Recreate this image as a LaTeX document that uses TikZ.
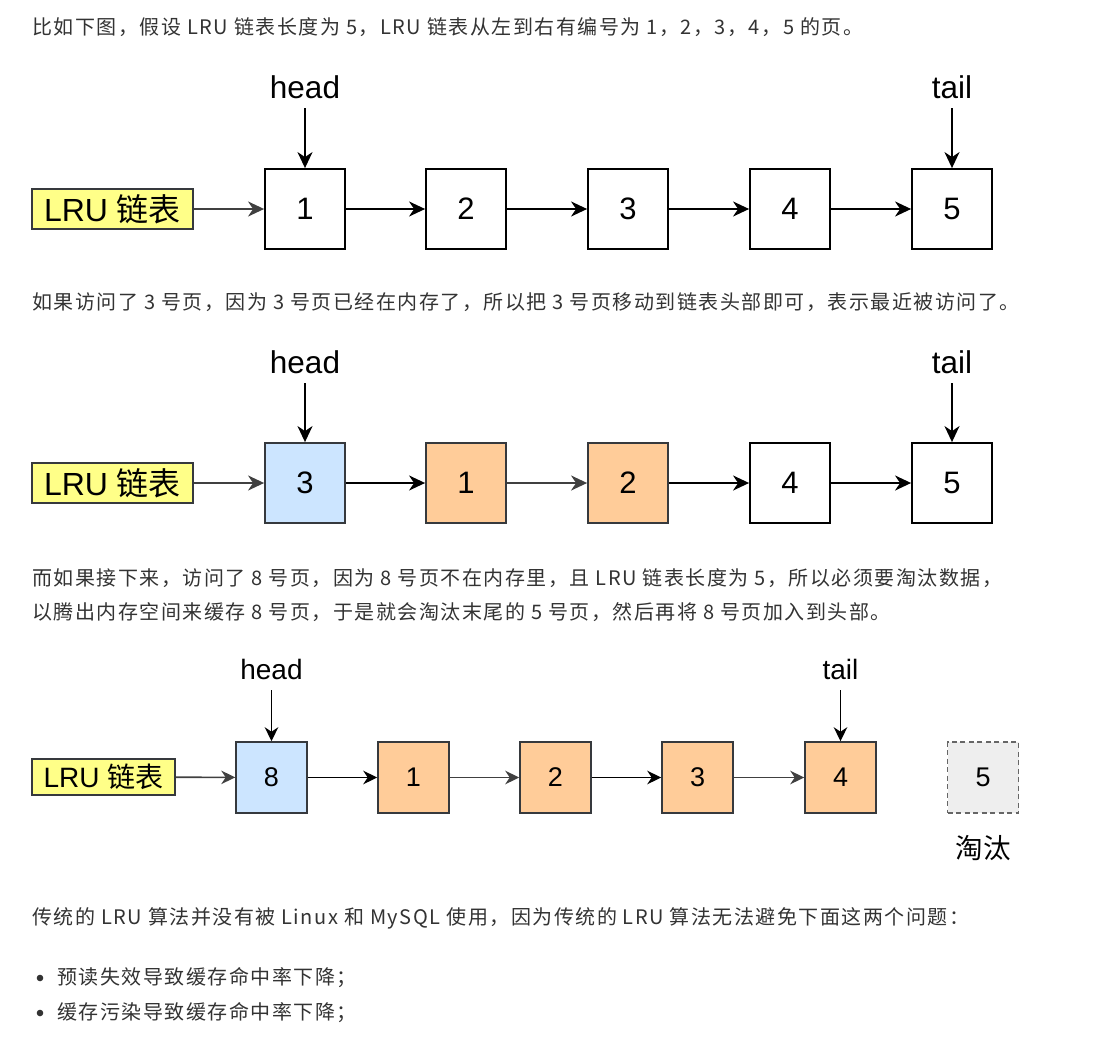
\documentclass[tikz,border=0pt]{standalone}
\usepackage{fontspec}
\setmainfont{Liberation Sans}
\newfontfamily\cjk{Noto Sans CJK SC}
\newfontfamily\cjkp[LetterSpace=7.5]{Noto Sans CJK SC}
\usetikzlibrary{arrows.meta}
\definecolor{txt}{HTML}{333333}
\definecolor{bdr}{HTML}{36393D}
\definecolor{ablue}{HTML}{CCE5FF}
\definecolor{aorange}{HTML}{FFCC99}
\definecolor{ayellow}{HTML}{FFFF88}
\definecolor{agray}{HTML}{EEEEEE}
\definecolor{dgray}{HTML}{666666}
\definecolor{arr}{HTML}{404040}
\tikzset{
  para/.style={anchor=west, inner sep=0pt, text=txt, font=\cjkp\fontsize{20}{22}\selectfont},
  pg/.style={draw=black, line width=1.8pt, minimum width=80pt, minimum height=80pt, inner sep=0pt, font=\fontsize{31}{32}\selectfont},
  pgs/.style={draw=bdr, line width=1.5pt, minimum width=71pt, minimum height=71pt, inner sep=0pt, font=\fontsize{27}{28}\selectfont},
  lru/.style={draw=bdr, fill=ayellow, line width=1.6pt, minimum width=161pt, minimum height=40pt, inner sep=0pt, font=\fontsize{32}{33}\selectfont},
  lrus/.style={draw=bdr, fill=ayellow, line width=1.5pt, minimum width=143pt, minimum height=36pt, inner sep=0pt, font=\fontsize{28}{29}\selectfont},
  lbl/.style={inner sep=0pt, font=\fontsize{31.5}{32}\selectfont},
  lbls/.style={inner sep=0pt, font=\fontsize{28}{29}\selectfont},
  ar/.style={-{Stealth[length=16pt,width=15pt,inset=5pt]}, line width=1.9pt, draw=black},
  arg/.style={-{Stealth[length=16pt,width=15pt,inset=5pt]}, line width=1.9pt, draw=arr},
  ars/.style={-{Stealth[length=14pt,width=13.5pt,inset=4.5pt]}, line width=1.6pt, draw=black},
  args/.style={-{Stealth[length=14pt,width=13.5pt,inset=4.5pt]}, line width=1.6pt, draw=arr},
  gone/.style={fill=agray, draw=dgray, line width=1.6pt, dash pattern=on 5pt off 3.5pt},
}
\begin{document}
\begin{tikzpicture}[x=1pt,y=-1pt]
\useasboundingbox (0,0) rectangle (1095,1041);
\fill[white] (0,0) rectangle (1095,1041);
% text
\node[para] (t1) at (32,27) {比如下图，假设 LRU 链表长度为 5，LRU 链表从左到右有编号为 1，2，3，4，5 的页。};
\node[para] (t2) at (32,302) {如果访问了 3 号页，因为 3 号页已经在内存了，所以把 3 号页移动到链表头部即可，表示最近被访问了。};
\node[para] (t3) at (32,578) {而如果接下来，访问了 8 号页，因为 8 号页不在内存里，且 LRU 链表长度为 5，所以必须要淘汰数据，};
\node[para] (t4) at (32,612) {以腾出内存空间来缓存 8 号页，于是就会淘汰末尾的 5 号页，然后再将 8 号页加入到头部。};
\node[para] (t5) at (32,918) {传统的 LRU 算法并没有被 Linux 和 MySQL 使用，因为传统的 LRU 算法无法避免下面这两个问题：};
\fill[txt] (40,978) circle (3.3pt);
\fill[txt] (40,1013) circle (3.3pt);
\node[para] (b1) at (57,978) {预读失效导致缓存命中率下降；};
\node[para] (b2) at (57,1013) {缓存污染导致缓存命中率下降；};

% diagram 1
\node[lru] (L1) at (112.5,209) {LRU \cjk 链表};
\node[pg] (a1) at (305,209) {1};
\node[pg] (a2) at (466,209) {2};
\node[pg] (a3) at (628,209) {3};
\node[pg] (a4) at (790,209) {4};
\node[pg] (a5) at (952,209) {5};
\node[lbl] (h1) at (305,87) {head};
\node[lbl] (tl1) at (952,87) {tail};
\coordinate (h1s) at (305,108);
\coordinate (tl1s) at (952,108);
\draw[arg] (L1) -- (a1);
\draw[ar] (a1) -- (a2);
\draw[ar] (a2) -- (a3);
\draw[ar] (a3) -- (a4);
\draw[ar] (a4) -- (a5);
\draw[ar] (h1s) -- (a1.north);
\draw[ar] (tl1s) -- (a5.north);

% diagram 2
\node[lru] (L2) at (112.5,483) {LRU \cjk 链表};
\node[pg, draw=bdr, fill=ablue] (c1) at (305,483) {3};
\node[pg, draw=bdr, fill=aorange] (c2) at (466,483) {1};
\node[pg, draw=bdr, fill=aorange] (c3) at (628,483) {2};
\node[pg] (c4) at (790,483) {4};
\node[pg] (c5) at (952,483) {5};
\node[lbl] (h2) at (305,362) {head};
\node[lbl] (tl2) at (952,362) {tail};
\coordinate (h2s) at (305,383);
\coordinate (tl2s) at (952,383);
\draw[arg] (L2) -- (c1);
\draw[ar] (c1) -- (c2);
\draw[arg] (c2) -- (c3);
\draw[ar] (c3) -- (c4);
\draw[ar] (c4) -- (c5);
\draw[ar] (h2s) -- (c1.north);
\draw[ar] (tl2s) -- (c5.north);

% diagram 3
\node[lrus] (L3) at (103.5,777) {LRU \cjk 链表};
\node[pgs, fill=ablue] (d1) at (271.5,777.5) {8};
\node[pgs, fill=aorange] (d2) at (413.5,777.5) {1};
\node[pgs, fill=aorange] (d3) at (555.5,777.5) {2};
\node[pgs, fill=aorange] (d4) at (697.5,777.5) {3};
\node[pgs, fill=aorange] (d5) at (840.5,777.5) {4};
\node[pgs, gone] (d6) at (983,777.5) {5};
\node[lbls] (h3) at (271.5,669) {head};
\node[lbls] (tl3) at (840.5,669) {tail};
\node[lbls, font=\cjk\fontsize{27.5}{28}\selectfont] (tt) at (983,848) {淘汰};
\coordinate (h3s) at (271.5,690);
\coordinate (tl3s) at (840.5,690);
\draw[args] (L3) -- (d1);
\draw[ars] (d1) -- (d2);
\draw[args] (d2) -- (d3);
\draw[ars] (d3) -- (d4);
\draw[args] (d4) -- (d5);
\draw[ars] (h3s) -- (d1.north);
\draw[ars] (tl3s) -- (d5.north);
\end{tikzpicture}
\end{document}
